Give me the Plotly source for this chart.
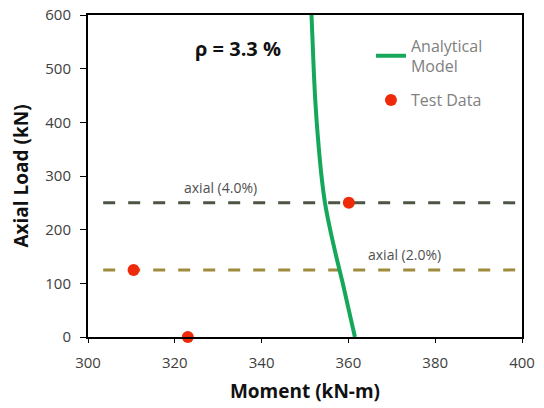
import plotly.graph_objects as go

model_moment = [351.5, 351.75, 352.0, 352.3, 352.7, 353.2, 353.8, 354.6, 355.8, 357.2, 358.7, 360.1, 361.5]
model_load = [600, 550, 500, 450, 400, 350, 300, 250, 200, 150, 100, 50, 0]

test_moment = [323.0, 310.5, 360.1]
test_load = [0, 125, 250]

ref_x = [303.5, 400]
axial4_load = 250
axial2_load = 125

FONT = "Open Sans, sans-serif"

fig = go.Figure()
fig.add_trace(go.Scatter(x=ref_x, y=[axial4_load] * 2, mode="lines",
                         line=dict(color="#4c5444", width=3, dash="12px,13px"),
                         showlegend=False, hoverinfo="skip"))
fig.add_trace(go.Scatter(x=ref_x, y=[axial2_load] * 2, mode="lines",
                         line=dict(color="#9e8c3c", width=3, dash="12px,13px"),
                         showlegend=False, hoverinfo="skip"))
fig.add_trace(go.Scatter(x=model_moment, y=model_load, mode="lines",
                         line=dict(color="#16a85a", width=4, shape="spline", smoothing=0.6),
                         name="Analytical<br>Model", legendgroup="a"))
fig.add_trace(go.Scatter(x=test_moment, y=test_load, mode="markers",
                         marker=dict(color="#ee2a0a", size=12),
                         name="Test Data", legendgroup="b", cliponaxis=False))

fig.add_annotation(x=330.5, y=axial4_load, text="axial (4.0%)", showarrow=False,
                   xanchor="center", yanchor="bottom", yshift=4,
                   font=dict(family=FONT, size=14, color="#505050"))
fig.add_annotation(x=373, y=axial2_load, text="axial (2.0%)", showarrow=False,
                   xanchor="center", yanchor="bottom", yshift=4,
                   font=dict(family=FONT, size=14, color="#505050"))
fig.add_annotation(x=0.345, y=0.897, xref="paper", yref="paper",
                   text="<b>ρ = 3.3 %</b>", showarrow=False,
                   xanchor="center", yanchor="middle",
                   font=dict(family=FONT, size=20, color="#111111"))

fig.update_layout(
    width=544, height=408,
    margin=dict(l=88, r=22, t=15, b=71, autoexpand=False),
    paper_bgcolor="white", plot_bgcolor="white",
    font=dict(family=FONT, size=15, color="#404040"),
    showlegend=True,
    legend=dict(x=0.652, y=0.958, xanchor="left", yanchor="top",
                bgcolor="rgba(0,0,0,0)", font=dict(family=FONT, size=16, color="#808080"),
                traceorder="grouped", tracegroupgap=10),
    xaxis=dict(range=[300, 400], dtick=20, showgrid=False, zeroline=False,
               showline=True, linecolor="black", linewidth=2, mirror=True,
               ticks="outside", ticklen=4, tickcolor="black", ticklabelstandoff=7,
               title=dict(text="<b>Moment (kN-m)</b>", font=dict(family=FONT, size=19, color="#111111"), standoff=14)),
    yaxis=dict(range=[0, 600], dtick=100, showgrid=False, zeroline=False,
               showline=True, linecolor="black", linewidth=2, mirror=True,
               ticks="outside", ticklen=6, tickcolor="black", ticklabelstandoff=6,
               title=dict(text="<b>Axial Load (kN)</b>", font=dict(family=FONT, size=19, color="#111111"), standoff=12)),
)

fig.write_html("out.html", config={"displayModeBar": False},
               post_script="document.body.style.margin='0';document.body.style.overflow='hidden';")
